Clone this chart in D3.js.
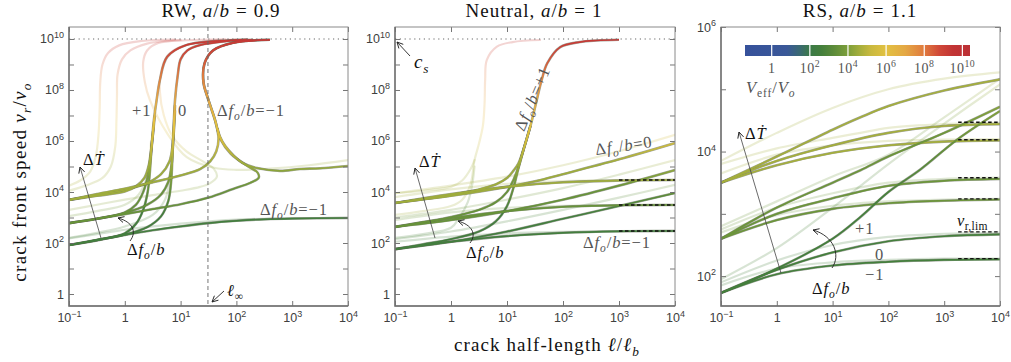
<!DOCTYPE html>
<html>
<head>
<meta charset="utf-8">
<script src="https://cdn.jsdelivr.net/npm/d3@7"></script>
<style>
  body { margin: 0; background: #fff; }
  svg { display: block; }
</style>
</head>
<body>
<svg id="chart" width="1011" height="362"></svg>
<script>
// ---- data: curves are [log10(l/lb), log10(vr/vo)], veff = log10(Veff/Vo) of the curve's base tone
var xTickExps = [-1, 0, 1, 2, 3, 4];
var wideYTickExps = [0, 1, 2, 3, 4, 5, 6, 7, 8, 9, 10];
var rsYTickExps = [2, 3, 4, 5, 6];
var vEffTickExps = [0, 2, 4, 6, 8, 10];
var csLevel = 10;          // shear wave speed, log10
var lInfinity = 1.49;      // log10 of l_inf in the RW panel
var neutralLimits = [4.47, 3.49, 2.47];
var rsLimits = [4.47, 4.19, 3.58, 3.24, 2.71, 2.28];

var rwBold = [
  {veff: 2.5, pts: [[-1,1.92],[-0.5,2.12],[0,2.38],[0.2,2.75],[0.33,3.3],[0.41,4.0],[0.45,4.8],[0.48,5.8],[0.52,6.8],[0.57,7.6],[0.63,8.4],[0.76,9.3],[1.1,9.76],[1.9,9.95],[2.2,9.98]]},
  {veff: 3.5, pts: [[-1,2.78],[-0.5,2.95],[0,3.2],[0.2,3.5],[0.33,4.0],[0.42,4.7],[0.47,5.5],[0.5,6.2],[0.54,7.0]]},
  {veff: 4.5, pts: [[-1,3.69],[-0.5,3.85],[0,4.02],[0.2,4.22],[0.35,4.55],[0.43,5.05],[0.48,5.8],[0.52,6.6]]},
  {veff: 2.5, pts: [[-1,1.92],[-0.5,2.1],[0,2.33],[0.4,2.62],[0.65,3.05],[0.78,3.65],[0.83,4.4],[0.85,5.2],[0.87,6.3],[0.9,7.6],[0.95,8.6],[1.0,9.2],[1.12,9.55],[1.35,9.76],[1.8,9.91],[2.3,9.97]]},
  {veff: 3.5, pts: [[-1,2.78],[-0.5,2.95],[0,3.18],[0.4,3.5],[0.65,3.9],[0.78,4.4],[0.84,5.1],[0.87,6.2],[0.9,7.4]]},
  {veff: 4.5, pts: [[-1,3.69],[-0.5,3.88],[0,4.08],[0.4,4.35],[0.65,4.7],[0.8,5.2],[0.86,5.9],[0.9,7.2]]},
  {veff: 2.5, pts: [[-1,1.92],[-0.5,2.12],[0,2.32],[0.5,2.5],[1,2.65],[1.5,2.78],[2,2.87],[2.5,2.93],[3,2.96],[4,2.98]]},
  {veff: 3.5, pts: [[-1,2.78],[-0.5,2.95],[0,3.13],[0.5,3.33],[1,3.52],[1.5,3.78],[1.94,4.12],[2.25,4.36],[2.4,4.56],[2.38,4.76],[2.22,4.99],[1.9,5.5],[1.72,6.05],[1.62,6.8],[1.5,7.6],[1.41,8.3],[1.43,9.05],[1.58,9.55],[1.94,9.85],[2.6,9.97]]},
  {veff: 4.5, pts: [[-1,3.69],[-0.5,3.92],[0,4.13],[0.5,4.38],[1,4.65],[1.35,4.9],[1.53,5.2],[1.64,5.6],[1.68,6.1],[1.62,6.8],[1.5,7.6],[1.41,8.3],[1.43,9.05],[1.58,9.55],[1.94,9.85],[2.6,9.97]]},
  {veff: 3.9, pts: [[4,5.02],[3.5,4.93],[3.14,4.9],[2.78,4.83],[2.37,4.94],[2.1,5.15],[1.94,5.45],[1.8,5.8],[1.7,6.2],[1.66,6.5]]}
];
var rwFaded = [
  {veff: 4.8, pts: [[-1,4.25],[-0.8,4.45],[-0.62,4.8],[-0.52,5.4],[-0.47,6.3],[-0.45,7.3],[-0.44,8.3],[-0.4,9.0],[-0.3,9.45],[-0.1,9.75],[0.3,9.92],[0.9,9.98]]},
  {veff: 4.6, pts: [[-1,4.05],[-0.7,4.25],[-0.4,4.55],[-0.25,5.0],[-0.17,5.8],[-0.15,6.8],[-0.14,7.8],[-0.13,8.6],[-0.05,9.2],[0.1,9.55],[0.4,9.82],[1.0,9.96]]},
  {veff: 4.4, pts: [[4,5.25],[3.3,5.05],[2.6,4.92],[2.0,4.87],[1.6,4.95],[1.11,5.37],[0.76,6.3],[0.45,7.6],[0.36,8.3],[0.33,9.1],[0.4,9.55],[0.6,9.84],[1.1,9.95],[1.8,9.99]]},
  {veff: 4.2, pts: [[-1,3.3],[-0.5,3.5],[0,3.7],[0.5,3.88],[1,4.05],[1.35,4.2],[1.53,4.35],[1.65,4.6],[1.6,4.9],[1.4,5.2],[1.1,5.6],[0.85,6.2],[0.7,7.0],[0.63,7.9],[0.65,8.7],[0.75,9.3],[0.95,9.65],[1.4,9.9],[2.0,9.98]]},
  {veff: 2.6, pts: [[-1,2.18],[-0.5,2.35],[0,2.52],[0.5,2.65],[1,2.76],[1.5,2.85],[2,2.92],[3,2.97],[4,2.99]]},
  {veff: 3.8, pts: [[-1,3.05],[-0.5,3.25],[0,3.5],[0.25,3.9],[0.38,4.5],[0.44,5.2],[0.47,6.0]]},
  {veff: 2.8, pts: [[-1,2.2],[-0.5,2.4],[0,2.65],[0.5,3.1],[0.72,3.7],[0.8,4.4],[0.84,5.2]]}
];

var neutralBold = [
  {veff: 2.5, pts: [[-1,1.76],[-0.5,1.95],[0,2.15],[0.5,2.45],[0.8,2.85],[1.0,3.45],[1.12,4.2],[1.2,4.9],[1.3,5.7],[1.42,6.6],[1.52,7.5],[1.62,8.4],[1.72,9.05],[1.95,9.68],[2.3,9.88],[2.6,9.94],[3.0,9.97]]},
  {veff: 3.5, pts: [[-1,2.63],[-0.5,2.82],[0,3.02],[0.5,3.3],[0.8,3.6],[1.0,4.0],[1.12,4.5],[1.2,4.95],[1.3,5.7],[1.42,6.6]]},
  {veff: 4.5, pts: [[-1,3.57],[-0.5,3.72],[0,3.88],[0.5,4.1],[0.8,4.3],[1.0,4.55],[1.12,4.85],[1.2,5.1],[1.3,5.7],[1.42,6.6]]},
  {veff: 4.5, pts: [[-1,3.57],[0,3.85],[1,4.2],[1.5,4.42],[2,4.7],[3,5.28],[4,5.92]]},
  {veff: 3.5, pts: [[-1,2.63],[0,2.9],[1,3.25],[2,3.7],[3,4.25],[4,4.86]]},
  {veff: 2.5, pts: [[-1,1.76],[0,2.05],[1,2.45],[2,2.95],[3,3.45],[4,3.96]]},
  {veff: 4.5, pts: [[-1,3.57],[0,3.92],[1,4.2],[2,4.38],[3,4.45],[4,4.47]]},
  {veff: 3.5, pts: [[-1,2.63],[0,2.97],[1,3.25],[2,3.42],[3,3.48],[4,3.49]]},
  {veff: 2.5, pts: [[-1,1.76],[0,2.05],[1,2.27],[2,2.4],[3,2.46],[4,2.47]]}
];
var neutralFaded = [
  {veff: 4.6, pts: [[-1,3.1],[-0.5,3.25],[0,3.45],[0.2,3.7],[0.35,4.3],[0.42,5.25],[0.5,5.9],[0.57,6.6],[0.6,7.5],[0.61,8.4],[0.64,9.18],[0.82,9.7],[1.1,9.88],[1.59,9.96]]},
  {veff: 4.6, pts: [[-1,3.95],[-0.5,4.05],[0,4.2],[0.2,4.45],[0.35,4.9],[0.42,5.25]]},
  {veff: 2.8, pts: [[-1,2.2],[-0.5,2.35],[0,2.6],[0.15,3.0],[0.3,3.6],[0.38,4.3],[0.42,5.0]]},
  {veff: 4.7, pts: [[-1,3.95],[0,4.25],[1,4.6],[2,5.05],[3,5.6],[4,6.24]]},
  {veff: 3.7, pts: [[-1,3.0],[0,3.3],[1,3.7],[2,4.15],[3,4.68],[4,5.25]]},
  {veff: 2.8, pts: [[-1,2.15],[0,2.45],[1,2.85],[2,3.3],[3,3.78],[4,4.28]]},
  {veff: 4.6, pts: [[-1,3.8],[0,4.1],[1,4.32],[2,4.43],[3,4.47],[4,4.48]]},
  {veff: 3.6, pts: [[-1,2.9],[0,3.2],[1,3.38],[2,3.46],[3,3.49],[4,3.5]]},
  {veff: 2.6, pts: [[-1,2.05],[0,2.25],[1,2.38],[2,2.44],[3,2.47],[4,2.48]]}
];

var rsBold = [
  {veff: 4.6, pts: [[-1,3.5],[0,3.92],[1,4.35],[1.5,4.55],[2,4.73],[3,4.98],[4,5.16]]},
  {veff: 4.6, pts: [[-1,3.5],[0,3.85],[1,4.1],[2,4.3],[3,4.41],[4,4.44]]},
  {veff: 4.6, pts: [[-1,3.5],[0,3.78],[1,3.98],[2,4.1],[3,4.16],[4,4.18]]},
  {veff: 3.6, pts: [[-1,2.6],[0,3.1],[1,3.5],[1.5,3.7],[2,3.92],[3,4.3],[4,4.72]]},
  {veff: 3.6, pts: [[-1,2.6],[0,3.0],[1,3.25],[2,3.45],[3,3.53],[4,3.56]]},
  {veff: 3.6, pts: [[-1,2.6],[0,2.9],[1,3.08],[2,3.17],[3,3.21],[4,3.23]]},
  {veff: 2.6, pts: [[-1,1.73],[0,2.12],[1,2.6],[1.5,2.95],[2,3.35],[2.57,3.71],[3.23,4.19],[4,4.65]]},
  {veff: 2.6, pts: [[-1,1.73],[0,2.1],[1,2.38],[2,2.56],[3,2.64],[4,2.67]]},
  {veff: 2.6, pts: [[-1,1.73],[0,2.03],[1,2.17],[2,2.23],[3,2.26],[4,2.27]]}
];
var rsFaded = [
  {veff: 4.6, pts: [[-1,3.85],[0,4.3],[1,4.7],[2,5.0],[3,5.17],[4,5.27]]},
  {veff: 4.6, pts: [[-1,3.8],[0,4.05],[1,4.22],[1.5,4.3],[2,4.38],[3,4.44],[4,4.46]]},
  {veff: 4.6, pts: [[-1,3.65],[0,3.95],[1,4.1],[2,4.17],[3,4.19],[4,4.2]]},
  {veff: 3.6, pts: [[-1,2.8],[0,3.2],[1,3.6],[2,3.95],[3,4.55],[4,5.17]]},
  {veff: 3.6, pts: [[-1,2.75],[0,3.1],[1,3.33],[2,3.5],[3,3.56],[4,3.58]]},
  {veff: 3.6, pts: [[-1,2.7],[0,2.98],[1,3.13],[2,3.2],[3,3.23],[4,3.24]]},
  {veff: 2.8, pts: [[-1,1.95],[0,2.45],[1,3.1],[1.5,3.45],[2,3.8],[3,4.45],[4,5.08]]},
  {veff: 2.6, pts: [[-1,1.9],[0,2.25],[1,2.5],[2,2.63],[3,2.68],[4,2.7]]},
  {veff: 2.6, pts: [[-1,1.85],[0,2.12],[1,2.22],[2,2.26],[3,2.28],[4,2.28]]}
];

// colour map for Veff/Vo (log10 stops)
var cmapStops = [-1.4, 0.8, 1.5, 2.0, 2.6, 3.2, 4.0, 4.6, 5.2, 6.0, 7.0, 8.0, 8.8, 9.5, 10.4];
var cmapColors = ["#36519b", "#3a5898", "#3a6a70", "#3b7a48", "#447f3c", "#5a8a3a", "#7d9f3a", "#a4ae3c",
                  "#c9b93f", "#e2c141", "#e4a844", "#e07a3e", "#d04838", "#c23434", "#bb3035"];

// ---- drawing
var SERIF = "Liberation Serif, Times New Roman, serif";
var SANS = "Liberation Sans, Arial, sans-serif";
var TOP = 27, BOTTOM = 306;

var svg = d3.select("#chart");
var defs = svg.append("defs");
var veffColor = d3.scaleLinear().domain(cmapStops).range(cmapColors).clamp(true);

defs.append("marker")
  .attr("id", "arrowhead")
  .attr("viewBox", "-8 -4 9 8")
  .attr("refX", 0).attr("refY", 0)
  .attr("markerWidth", 9).attr("markerHeight", 8)
  .attr("markerUnits", "userSpaceOnUse")
  .attr("orient", "auto")
  .append("path")
  .attr("d", "M-6,-3L0,0L-6,3")
  .attr("fill", "none").attr("stroke", "#222").attr("stroke-width", 0.9);

// text with italic runs, sub- and superscripts
function mathText(parent, x, y, parts, size, opts) {
  opts = opts || {};
  var t = parent.append("text")
    .attr("x", x).attr("y", y)
    .attr("font-family", SERIF).attr("font-size", size)
    .attr("letter-spacing", opts.ls === undefined ? 0.9 : opts.ls)
    .attr("fill", opts.fill || "#111")
    .attr("text-anchor", opts.anchor || "start");
  if (opts.rotate !== undefined) t.attr("transform", "rotate(" + opts.rotate + "," + x + "," + y + ")");
  var shift = 0;
  parts.forEach(function (p) {
    var s = p[0], kind = p[1] || "r";
    var ts = t.append("tspan").text(s);
    var target = 0;
    if (kind.indexOf("sub") === 0) { target = size * 0.26; ts.attr("font-size", size * 0.7); }
    if (kind.indexOf("sup") === 0) { target = -size * 0.42; ts.attr("font-size", size * 0.7); }
    if (target !== shift) ts.attr("dy", target - shift);
    shift = target;
    if (kind === "i" || kind === "subi" || kind === "supi") ts.attr("font-style", "italic");
    if (p[2]) ts.attr("dx", p[2]);
  });
  return t;
}

function expLabel(text, e, size) {
  text.text(null);
  if (e === 0) { text.append("tspan").text("1"); return; }
  text.append("tspan").text("10");
  text.append("tspan").attr("dy", -size * 0.42).attr("font-size", size * 0.72)
    .text(e < 0 ? "\u2212" + (-e) : e);
}

var dfParts = [["\u0394"], ["f", "i"], ["o", "subi"], ["/"], ["b", "i"]];

function drawPanel(p) {
  var x = d3.scaleLog().domain([0.1, 1e4]).range([p.left, p.right]);
  var y = d3.scaleLog().domain([Math.pow(10, p.yExp[0]), Math.pow(10, p.yExp[1])]).range([BOTTOM, TOP]);
  var g = svg.append("g").attr("class", "panel-" + p.key);

  defs.append("clipPath").attr("id", "clip-" + p.key)
    .append("rect").attr("x", p.left).attr("y", TOP)
    .attr("width", p.right - p.left).attr("height", BOTTOM - TOP);

  var line = d3.line()
    .x(function (d) { return x(Math.pow(10, d[0])); })
    .y(function (d) { return y(Math.pow(10, d[1])); })
    .curve(d3.curveCatmullRom.alpha(0.5));

  // vertical gradient per curve: colour follows Veff, which rises with speed once the crack runs away
  function gradientFor(c, i, tag) {
    var id = "grad-" + p.key + "-" + tag + "-" + i;
    var grad = defs.append("linearGradient").attr("id", id)
      .attr("gradientUnits", "userSpaceOnUse")
      .attr("x1", 0).attr("x2", 0)
      .attr("y1", BOTTOM).attr("y2", TOP);
    var lo = p.yExp[0], hi = p.yExp[1];
    d3.range(lo, hi + 0.001, 0.2).forEach(function (lv) {
      grad.append("stop")
        .attr("offset", (lv - lo) / (hi - lo))
        .attr("stop-color", veffColor(Math.max(c.veff, lv - 0.6)));
    });
    return "url(#" + id + ")";
  }

  var curves = g.append("g").attr("clip-path", "url(#clip-" + p.key + ")");

  curves.append("g").attr("class", "faded")
    .selectAll("path").data(p.faded).enter().append("path")
    .attr("d", function (d) { return line(d.pts); })
    .attr("fill", "none")
    .attr("stroke", function (d, i) { return gradientFor(d, i, "f"); })
    .attr("stroke-width", 2.2)
    .attr("stroke-opacity", 0.22)
    .attr("stroke-linecap", "round");

  var bold = curves.append("g").attr("class", "bold");
  bold.selectAll("path.edge").data(p.bold).enter().append("path")
    .attr("class", "edge")
    .attr("d", function (d) { return line(d.pts); })
    .attr("fill", "none")
    .attr("stroke", "#2c3622")
    .attr("stroke-opacity", 0.45)
    .attr("stroke-width", 2.6);
  bold.selectAll("path.core").data(p.bold).enter().append("path")
    .attr("class", "core")
    .attr("d", function (d) { return line(d.pts); })
    .attr("fill", "none")
    .attr("stroke", function (d, i) { return gradientFor(d, i, "b"); })
    .attr("stroke-width", 1.7);

  // axes, ticks inside on all four sides
  var xTicks = xTickExps.map(function (e) { return Math.pow(10, e); });
  var yTicks = p.yTickExps.map(function (e) { return Math.pow(10, e); });
  var labelled = function (e) { return e % 2 === 0; };

  var bottomAxis = g.append("g").attr("transform", "translate(0," + BOTTOM + ")")
    .call(d3.axisBottom(x).tickValues(xTicks).tickSizeInner(-5).tickSizeOuter(0).tickPadding(7));
  bottomAxis.selectAll(".tick text").each(function (d) {
    expLabel(d3.select(this), Math.round(Math.log10(d)), 12.5);
  });
  var leftAxis = g.append("g").attr("transform", "translate(" + p.left + ",0)")
    .call(d3.axisLeft(y).tickValues(yTicks).tickSizeInner(-5).tickSizeOuter(0).tickPadding(5));
  leftAxis.selectAll(".tick text").each(function (d) {
    var e = Math.round(Math.log10(d));
    if (labelled(e)) expLabel(d3.select(this), e, 12.5); else d3.select(this).remove();
  });
  g.append("g").attr("transform", "translate(0," + TOP + ")")
    .call(d3.axisTop(x).tickValues(xTicks).tickSizeInner(-5).tickSizeOuter(0).tickFormat(""));
  g.append("g").attr("transform", "translate(" + p.right + ",0)")
    .call(d3.axisRight(y).tickValues(yTicks).tickSizeInner(-5).tickSizeOuter(0).tickFormat(""));

  g.selectAll(".domain").remove();
  g.selectAll(".tick line").attr("stroke", "#666").attr("stroke-width", 0.9);
  g.selectAll(".tick text").attr("fill", "#404040").attr("font-family", SANS).attr("font-size", 12.5);

  g.append("rect")
    .attr("x", p.left).attr("y", TOP)
    .attr("width", p.right - p.left).attr("height", BOTTOM - TOP)
    .attr("fill", "none").attr("stroke", "#8a8a8a").attr("stroke-width", 1);
  g.append("path")
    .attr("d", "M" + p.left + "," + TOP + "V" + BOTTOM + "H" + p.right)
    .attr("fill", "none").attr("stroke", "#6e6e6e").attr("stroke-width", 1.4);

  mathText(svg, p.titleX, 17, [[p.title + ", "], ["a", "i"], ["/"], ["b", "i"], ["=", "r", 6], [p.ratio, "r", 6]], 19,
    {anchor: "middle", ls: 1});

  return {x: x, y: y, g: g};
}

var rw = drawPanel({key: "rw", title: "RW", ratio: "0.9", left: 69, right: 348, titleX: 221,
  yExp: [-0.47, 10.47], yTickExps: wideYTickExps, bold: rwBold, faded: rwFaded});
var neutral = drawPanel({key: "neutral", title: "Neutral", ratio: "1", left: 395, right: 675, titleX: 534,
  yExp: [-0.47, 10.47], yTickExps: wideYTickExps, bold: neutralBold, faded: neutralFaded});
var rs = drawPanel({key: "rs", title: "RS", ratio: "1.1", left: 721, right: 1000, titleX: 860,
  yExp: [1.52, 6], yTickExps: rsYTickExps, bold: rsBold, faded: rsFaded});

// shear wave speed ceiling
[rw, neutral].forEach(function (P) {
  P.g.append("line")
    .attr("x1", P.x(0.1)).attr("x2", P.x(1e4))
    .attr("y1", P.y(Math.pow(10, csLevel))).attr("y2", P.y(Math.pow(10, csLevel)))
    .attr("stroke", "#666").attr("stroke-width", 1.2).attr("stroke-dasharray", "1.2,3.6");
});

// l_inf marker in RW
rw.g.append("line")
  .attr("x1", rw.x(Math.pow(10, lInfinity))).attr("x2", rw.x(Math.pow(10, lInfinity)))
  .attr("y1", TOP).attr("y2", BOTTOM)
  .attr("stroke", "#666").attr("stroke-width", 0.9).attr("stroke-dasharray", "4,3");

// limiting speeds
function limitDashes(P, levels, fromExp) {
  P.g.selectAll("line.limit").data(levels).enter().append("line")
    .attr("class", "limit")
    .attr("x1", P.x(Math.pow(10, fromExp))).attr("x2", P.x(1e4))
    .attr("y1", function (d) { return P.y(Math.pow(10, d)); })
    .attr("y2", function (d) { return P.y(Math.pow(10, d)); })
    .attr("stroke", "#111").attr("stroke-width", 1.4).attr("stroke-dasharray", "3.5,2.5");
}
limitDashes(neutral, neutralLimits, 3.0);
limitDashes(rs, rsLimits, 3.25);

// ---- annotations
var ann = svg.append("g").attr("class", "annotations");
function arrow(d, color, w) {
  ann.append("path").attr("d", d).attr("fill", "none")
    .attr("stroke", color || "#222").attr("stroke-width", w || 0.9)
    .attr("marker-end", "url(#arrowhead)");
}
var dTParts = [["\u0394"], ["\u1E6A", "i"]];
var AS = 16.5;   // annotation font size

// RW
arrow("M101,238L80,167", "#444", 0.8);
mathText(ann, 83, 165, dTParts, AS);
arrow("M130,241C137,232 133,222 118,218");
mathText(ann, 127, 255, dfParts, AS);
mathText(ann, 132, 116, [["+1"]], AS, {fill: "#555"});
mathText(ann, 178, 116, [["0"]], AS, {fill: "#555"});
mathText(ann, 217, 116, dfParts.concat([["=\u22121"]]), AS, {fill: "#555"});
mathText(ann, 260, 215, dfParts.concat([["=\u22121"]]), AS, {fill: "#555"});
arrow("M224,291L212,302");
mathText(ann, 227, 296, [["\u2113", "i"], ["\u221E", "sub"]], AS);

// Neutral
arrow("M410,56L397,42");
mathText(ann, 414, 68, [["c", "i"], ["s", "subi"]], 19);
arrow("M435,238L415,168", "#444", 0.8);
mathText(ann, 419, 167, dTParts, AS);
arrow("M470,243C477,234 472,225 458,221");
mathText(ann, 466, 258, dfParts, AS);
mathText(ann, 524, 132, dfParts.concat([["=+1"]]), AS, {fill: "#555", rotate: -67});
mathText(ann, 596, 155, dfParts.concat([["=0"]]), AS, {fill: "#555", rotate: -8});
mathText(ann, 583, 248, dfParts.concat([["=\u22121"]]), AS, {fill: "#555"});

// RS
arrow("M781,273L739,132", "#444", 0.8);
mathText(ann, 745, 139, dTParts, AS);
arrow("M832,268C841,255 834,236 813,230");
mathText(ann, 812, 294, dfParts, AS);
mathText(ann, 855, 234, [["+1"]], AS, {fill: "#555"});
mathText(ann, 875, 260, [["0"]], AS, {fill: "#555"});
mathText(ann, 865, 280, [["\u22121"]], AS, {fill: "#555"});
mathText(ann, 957, 226, [["v", "i"], ["r,lim", "sub"]], AS, {ls: 0.3});

// axis titles
mathText(svg, 26, 182, [["crack front speed  "], ["v", "i"], ["r", "subi"], ["/"], ["v", "i"], ["o", "subi"]], 19,
  {anchor: "middle", rotate: -90, ls: 1.3});
mathText(svg, 547, 351, [["crack half-length  "], ["\u2113", "i"], ["/"], ["\u2113", "i"], ["b", "subi"]], 19,
  {anchor: "middle", ls: 1.1});

// ---- Veff colour bar
var cbX = d3.scaleLinear().domain([cmapStops[0], cmapStops[cmapStops.length - 1]]).range([745, 970]);
var cbGrad = defs.append("linearGradient").attr("id", "cbar")
  .attr("gradientUnits", "userSpaceOnUse")
  .attr("x1", cbX.range()[0]).attr("x2", cbX.range()[1]).attr("y1", 0).attr("y2", 0);
cmapStops.forEach(function (s, i) {
  cbGrad.append("stop").attr("offset", (s - cmapStops[0]) / (cmapStops[cmapStops.length - 1] - cmapStops[0]))
    .attr("stop-color", cmapColors[i]);
});
var cbar = svg.append("g").attr("class", "colorbar");
cbar.append("rect").attr("x", cbX.range()[0]).attr("y", 45)
  .attr("width", cbX.range()[1] - cbX.range()[0]).attr("height", 11).attr("fill", "url(#cbar)");
cbar.selectAll("line").data(vEffTickExps).enter().append("line")
  .attr("x1", cbX).attr("x2", cbX).attr("y1", 45).attr("y2", 56)
  .attr("stroke", "#fff").attr("stroke-width", 1.2);
vEffTickExps.forEach(function (e) {
  var parts = e === 0 ? [["1"]] : [["10"], [String(e), "sup"]];
  mathText(cbar, cbX(e), 73, parts, 14, {anchor: "middle", fill: "#555", ls: 0.5});
});
mathText(cbar, 746, 93, [["V", "i"], ["eff", "sub"], ["/"], ["V", "i"], ["o", "subi"]], 16.5, {fill: "#555"});
</script>
</body>
</html>
